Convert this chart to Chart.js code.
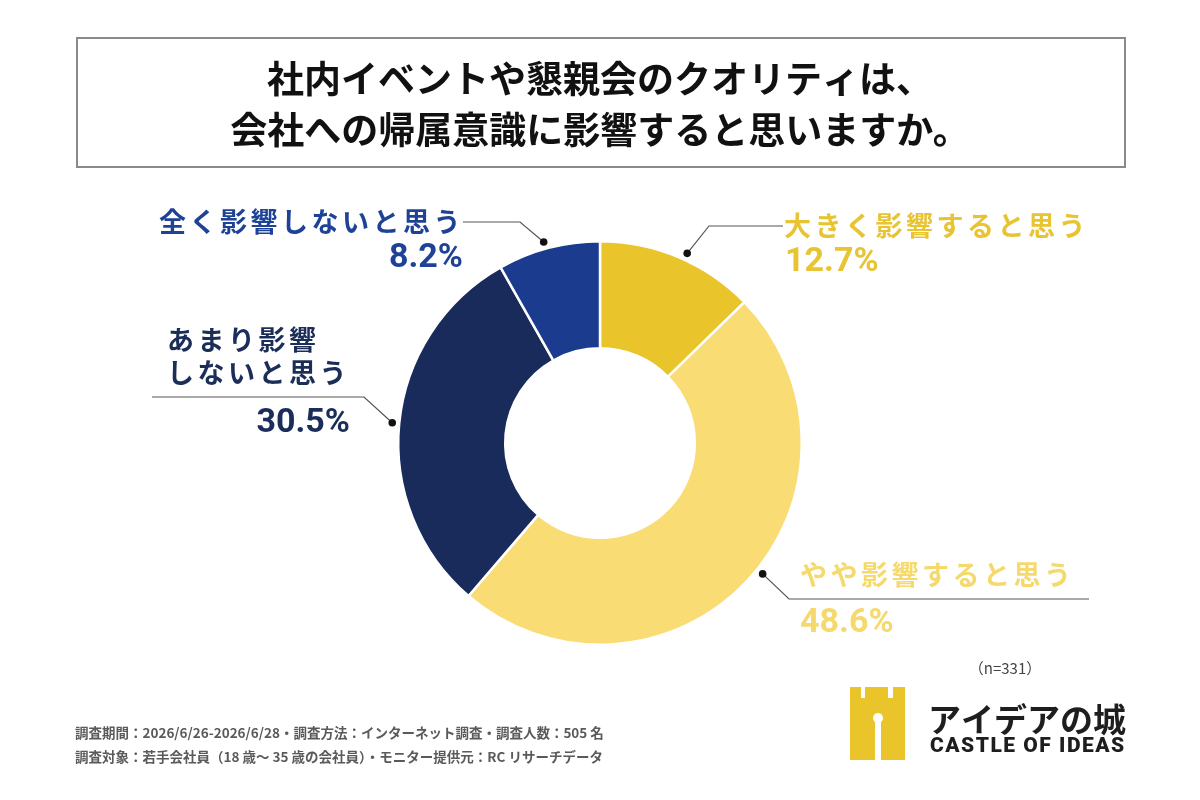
<!DOCTYPE html>
<html>
<head>
<meta charset="utf-8">
<script src="https://cdn.jsdelivr.net/npm/chart.js@4"></script>
<style>
html,body{margin:0;padding:0;background:#fff;}
canvas{display:block;}
</style>
</head>
<body>
<canvas id="c" width="1200" height="800"></canvas>
<script>
// ---- data ----
const titleLines = ['社内イベントや懇親会のクオリティは、', '会社への帰属意識に影響すると思いますか。'];
const categories = ['大きく影響すると思う', 'やや影響すると思う', 'あまり影響しないと思う', '全く影響しないと思う'];
const values = [12.7, 48.6, 30.5, 8.2];
const sampleNote = '（n=331）';
const footnotes = [
  '調査期間：2026/6/26-2026/6/28・調査方法：インターネット調査・調査人数：505 名',
  '調査対象：若手会社員（18 歳～ 35 歳の会社員）・モニター提供元：RC リサーチデータ'
];
const logoJa = 'アイデアの城';
const logoEn = 'CASTLE OF IDEAS';

// ---- styles ----
const sliceColors = ['#E9C42B', '#F9DC74', '#182B5B', '#1A3B8E'];
const textColors = ['#E8C332', '#F5D96C', '#1B2E5A', '#1E4396'];
const JP = "'Noto Sans CJK JP', 'Noto Sans', sans-serif";
const NUM = "Roboto, 'Noto Sans', sans-serif";

// label layout (positions only)
const labelLayout = [
  {frac: 0.54, elbow: [709, 226], end: [783, 226], nameLines: ['大きく影響すると思う'], nameX: 784, align: 'left', nameY: [226], pctX: 785, pctAlign: 'left', pctY: 262},
  {frac: 0.475, elbow: [789, 599], end: [1089, 599], nameLines: ['やや影響すると思う'], nameX: 800, align: 'left', nameY: [575], pctX: 800, pctAlign: 'left', pctY: 623},
  {frac: 0.5, elbow: [364, 397], end: [152, 397], nameLines: ['あまり影響', 'しないと思う'], nameX: 167, align: 'left', nameY: [340, 373], pctX: 350, pctAlign: 'right', pctY: 423},
  {frac: 0.47, elbow: [520, 222], end: [463, 222], nameLines: ['全く影響しないと思う'], nameX: 464, align: 'right', nameY: [222], pctX: 463, pctAlign: 'right', pctY: 258}
];

const decorPlugin = {
  id: 'decor',
  beforeDraw(chart) {
    const ctx = chart.ctx;
    ctx.save();
    ctx.fillStyle = '#fff';
    ctx.fillRect(0, 0, chart.width, chart.height);
    // title box
    ctx.strokeStyle = '#8a8a8a';
    ctx.lineWidth = 2;
    ctx.strokeRect(77, 38, 1048, 129);
    ctx.fillStyle = '#111';
    ctx.font = 'bold 37px ' + JP;
    ctx.textAlign = 'center';
    ctx.textBaseline = 'middle';
    ctx.fillText(titleLines[0], 600, 79);
    ctx.fillText(titleLines[1], 600, 130);
    ctx.restore();
  },
  afterDraw(chart) {
    const ctx = chart.ctx;
    const meta = chart.getDatasetMeta(0);
    ctx.save();
    meta.data.forEach((arc, i) => {
      const p = arc.getProps(['x', 'y', 'startAngle', 'endAngle', 'outerRadius'], true);
      const L = labelLayout[i];
      const a = p.startAngle + (p.endAngle - p.startAngle) * L.frac;
      const r = p.outerRadius + 7;
      const dx = p.x + Math.cos(a) * r;
      const dy = p.y + Math.sin(a) * r;
      // leader line
      ctx.strokeStyle = '#555';
      ctx.lineWidth = 1.2;
      ctx.beginPath();
      ctx.moveTo(dx, dy);
      ctx.lineTo(L.elbow[0], L.elbow[1]);
      ctx.lineTo(L.end[0], L.end[1]);
      ctx.stroke();
      ctx.fillStyle = '#111';
      ctx.beginPath();
      ctx.arc(dx, dy, 3.8, 0, Math.PI * 2);
      ctx.fill();
      // name
      ctx.fillStyle = textColors[i];
      ctx.textBaseline = 'middle';
      ctx.font = 'bold 27px ' + JP;
      ctx.letterSpacing = '3.5px';
      ctx.textAlign = L.align;
      L.nameLines.forEach((t, k) => ctx.fillText(t, L.nameX, L.nameY[k]));
      // percent
      ctx.letterSpacing = '0px';
      ctx.font = 'bold 34px ' + NUM;
      ctx.textAlign = L.pctAlign;
      ctx.fillText(values[i].toFixed(1) + '%', L.pctX, L.pctY);
    });
    ctx.letterSpacing = '0px';

    // footnotes
    ctx.fillStyle = '#5a5a5a';
    ctx.font = 'bold 13.5px ' + JP;
    ctx.textAlign = 'left';
    ctx.textBaseline = 'middle';
    ctx.fillText(footnotes[0], 75, 733);
    ctx.fillText(footnotes[1], 75, 757);

    // n
    ctx.fillStyle = '#444';
    ctx.font = '15px ' + JP;
    ctx.textAlign = 'center';
    ctx.fillText(sampleNote, 1005, 668);

    // logo icon
    ctx.fillStyle = '#E9C42B';
    ctx.beginPath();
    ctx.moveTo(850, 687);
    ctx.lineTo(861, 687); ctx.lineTo(861, 698); ctx.lineTo(865, 698); ctx.lineTo(865, 687);
    ctx.lineTo(888, 687); ctx.lineTo(888, 698); ctx.lineTo(893, 698); ctx.lineTo(893, 687);
    ctx.lineTo(905, 687); ctx.lineTo(905, 760); ctx.lineTo(850, 760);
    ctx.closePath();
    ctx.fill();
    ctx.fillStyle = '#fff';
    ctx.beginPath();
    ctx.arc(878, 718, 5, 0, Math.PI * 2);
    ctx.fill();
    ctx.fillRect(875, 722, 6, 38);

    // logo text
    ctx.fillStyle = '#1e1e1e';
    ctx.textAlign = 'left';
    ctx.font = 'bold 33px ' + JP;
    ctx.fillText(logoJa, 928, 719);
    ctx.font = '900 21px ' + "Roboto, 'Noto Sans', sans-serif";
    ctx.letterSpacing = '1.5px';
    ctx.fillText(logoEn, 930, 747);
    ctx.letterSpacing = '0px';
    ctx.restore();
  }
};

new Chart(document.getElementById('c'), {
  type: 'doughnut',
  data: {
    labels: categories,
    datasets: [{
      data: values,
      backgroundColor: sliceColors,
      borderColor: '#ffffff',
      borderWidth: 2.5,
      hoverOffset: 0
    }]
  },
  options: {
    responsive: false,
    animation: false,
    cutout: '47%',
    rotation: 0,
    layout: {padding: {left: 397, right: 397, top: 240, bottom: 154}},
    plugins: {
      legend: {display: false},
      tooltip: {enabled: false}
    }
  },
  plugins: [decorPlugin]
});
</script>
</body>
</html>
